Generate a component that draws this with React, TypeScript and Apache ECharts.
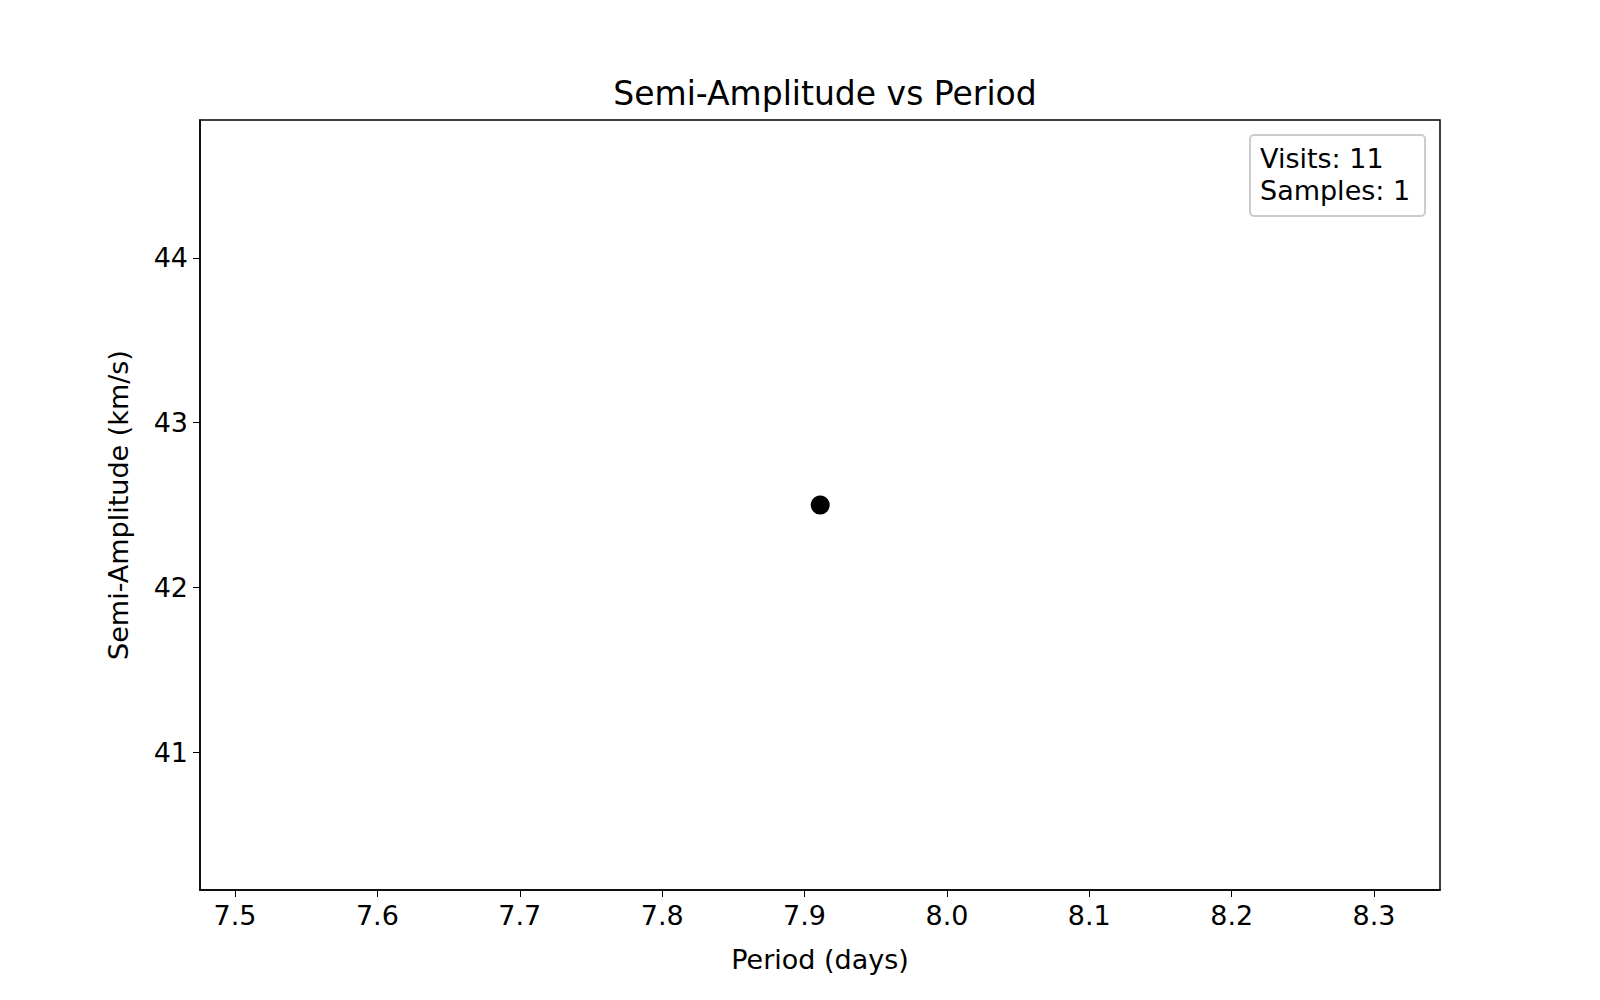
import React, { useEffect, useRef } from "react";
import * as echarts from "echarts";

const points: number[][] = [[7.911, 42.5]];
const xTicks = [7.5, 7.6, 7.7, 7.8, 7.9, 8.0, 8.1, 8.2, 8.3];
const yTicks = [41, 42, 43, 44];
const infoLines = ["Visits: 11", "Samples: 1"];

export default function App() {
  const ref = useRef<HTMLDivElement>(null);
  useEffect(() => {
    const chart = echarts.init(ref.current!, null, { renderer: "svg" });
    const font = "DejaVu Sans";
    chart.setOption({
      animation: false,
      textStyle: { fontFamily: font },
      title: {
        text: "Semi-Amplitude vs Period",
        left: 820, top: 72, textAlign: "center",
        textStyle: { fontFamily: font, fontSize: 33, fontWeight: "normal", color: "#000" },
      },
      grid: { left: 200, right: 160, top: 120, bottom: 110 },
      xAxis: {
        type: "value", min: 7.4754, max: 8.3463,
        name: "Period (days)", nameLocation: "middle", nameGap: 56,
        nameTextStyle: { fontFamily: font, fontSize: 27, color: "#000" },
        axisLine: { onZero: false, lineStyle: { color: "#000", width: 1.5 } },
        axisTick: { show: true, length: 7, lineStyle: { color: "#000" }, customValues: xTicks },
        axisLabel: { fontFamily: font, fontSize: 27, color: "#000", margin: 12, customValues: xTicks, formatter: (v: number) => v.toFixed(1) },
        splitLine: { show: false },
      },
      yAxis: {
        type: "value", min: 40.162, max: 44.838,
        name: "Semi-Amplitude (km/s)", nameLocation: "middle", nameGap: 68,
        nameTextStyle: { fontFamily: font, fontSize: 27, color: "#000" },
        axisLine: { show: true, onZero: false, lineStyle: { color: "#000", width: 1.5 } },
        axisTick: { show: true, length: 7, lineStyle: { color: "#000" }, customValues: yTicks },
        axisLabel: { fontFamily: font, fontSize: 27, color: "#000", margin: 12, customValues: yTicks },
        splitLine: { show: false },
      },
      graphic: [
        { type: "rect", shape: { x: 200, y: 120, width: 1240, height: 770 }, style: { fill: "none", stroke: "#000", lineWidth: 1.5 }, silent: true },
        { type: "rect", shape: { x: 1250, y: 135, width: 175, height: 81, r: 4 }, style: { fill: "#fff", stroke: "#ccc", lineWidth: 2 } },
        { type: "text", x: 1260, y: 142, style: { text: infoLines.join("\n"), fontFamily: font, fontSize: 27, lineHeight: 32, fill: "#000" } },
      ],
      series: [{ type: "scatter", data: points, symbolSize: 19, itemStyle: { color: "#000", opacity: 1 } }],
    });
    return () => chart.dispose();
  }, []);
  return <div ref={ref} style={{ position: "absolute", left: 0, top: 0, width: 1600, height: 1000 }} />;
}
